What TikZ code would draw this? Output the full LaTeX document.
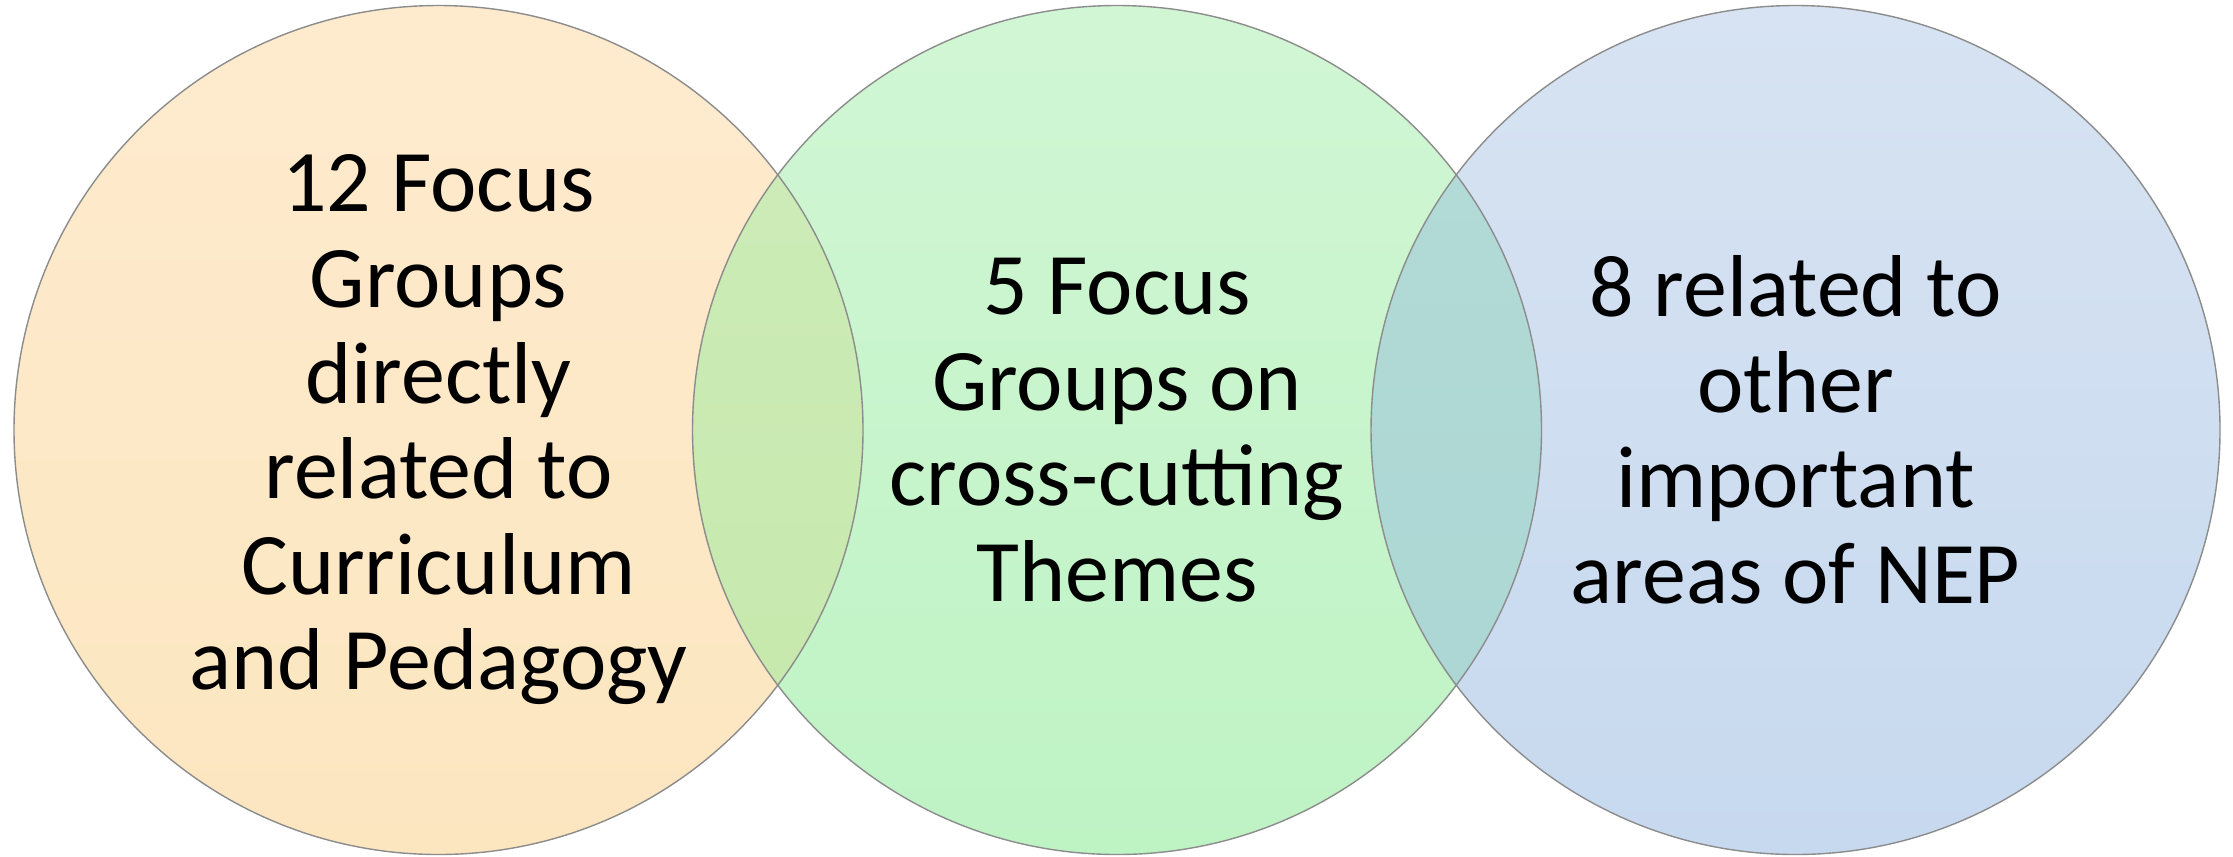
\documentclass[tikz,border=0pt]{standalone}
\usepackage{fontspec}
\setmainfont{Carlito}
\begin{document}
\begin{tikzpicture}[x=0.1mm,y=-0.1mm]
\definecolor{peachT}{RGB}{254,235,206}
\definecolor{peachB}{RGB}{252,230,192}
\definecolor{greenT}{RGB}{209,246,212}
\definecolor{greenB}{RGB}{190,243,196}
\definecolor{blueT}{RGB}{215,227,242}
\definecolor{blueB}{RGB}{199,217,239}
\definecolor{lmT}{RGB}{206,236,186}
\definecolor{lmB}{RGB}{197,232,170}
\definecolor{mrT}{RGB}{180,219,215}
\definecolor{mrB}{RGB}{170,214,211}
\definecolor{rim}{RGB}{140,140,140}
\tikzset{
  rimline/.style={draw=rim, line width=0.4pt},
  label/.style={align=center, font=\fontsize{25}{27.2}\selectfont, text=black}
}
\useasboundingbox (0,0) rectangle (2233,856);
\def\R{424.5}
\coordinate (cL) at (438.5,430);
\coordinate (cM) at (1117,430);
\coordinate (cR) at (1795.5,430);
% circle fills
\shade[top color=peachT, bottom color=peachB] (cL) circle[radius=\R];
\shade[top color=greenT, bottom color=greenB] (cM) circle[radius=\R];
\shade[top color=blueT, bottom color=blueB] (cR) circle[radius=\R];
% overlap lenses
\begin{scope}
  \clip (cL) circle[radius=\R];
  \shade[top color=lmT, bottom color=lmB] (cM) circle[radius=\R];
\end{scope}
\begin{scope}
  \clip (cM) circle[radius=\R];
  \shade[top color=mrT, bottom color=mrB] (cR) circle[radius=\R];
\end{scope}
% outlines
\draw[rimline] (cL) circle[radius=\R];
\draw[rimline] (cM) circle[radius=\R];
\draw[rimline] (cR) circle[radius=\R];
% labels
\node[label] (tL) at (cL) {12 Focus\\Groups\\directly\\related to\\Curriculum\\and Pedagogy};
\node[label] (tM) at (cM) {5 Focus\\Groups on\\cross-cutting\\Themes};
\node[label] (tR) at (cR) {8 related to\\other\\important\\areas of NEP};
\end{tikzpicture}
\end{document}
